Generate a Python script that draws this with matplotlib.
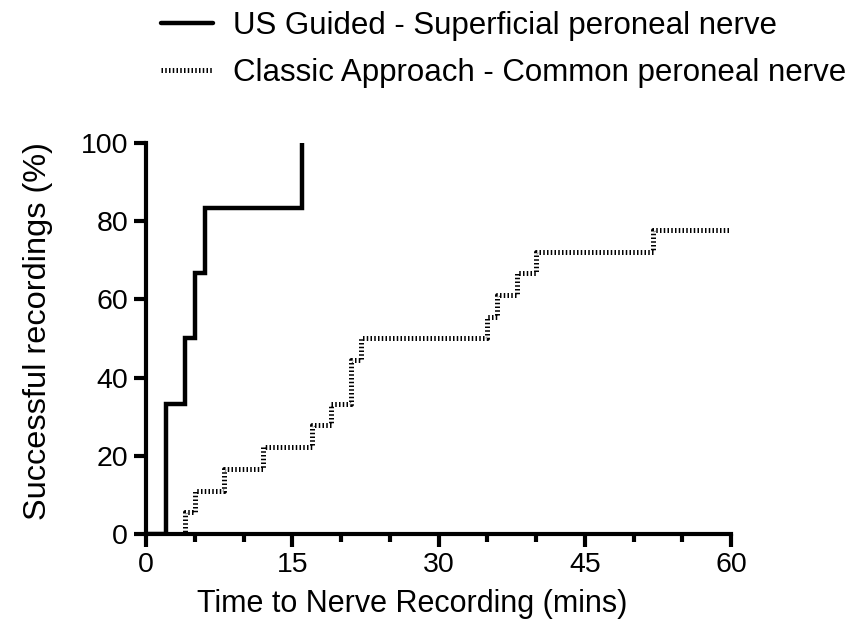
import matplotlib
matplotlib.use('Agg')
import matplotlib.pyplot as plt
from matplotlib.ticker import MultipleLocator

plt.rcParams['font.family'] = ['Liberation Sans', 'DejaVu Sans']

# --- data: cumulative % of successful recordings vs time (mins) ---
us_time = [0, 2, 4, 5, 6, 16]
us_pct = [0, 33.3, 50.0, 66.7, 83.3, 100.0]

classic_time = [0, 4, 5, 8, 12, 17, 19, 21, 22, 35, 36, 38, 40, 52, 60]
classic_pct = [0, 5.6, 11.1, 16.7, 22.2, 27.8, 33.3, 44.4, 50.0, 55.6, 61.1, 66.7, 72.2, 77.8, 77.8]

us_label = 'US Guided - Superficial peroneal nerve'
classic_label = 'Classic Approach - Common peroneal nerve'

x_ticks = [0, 15, 30, 45, 60]
y_ticks = [0, 20, 40, 60, 80, 100]

fig = plt.figure(figsize=(8.6, 6.31), dpi=100)
ax = fig.add_axes([0.170, 0.1537, 0.680, 0.6197])

ax.step(classic_time, classic_pct, where='post', color='black', lw=3.6,
        linestyle=(0, (0.3, 0.45)), dash_capstyle='butt', label=classic_label, zorder=2)
ax.step(us_time, us_pct, where='post', color='black', lw=3.2,
        solid_joinstyle='miter', label=us_label, zorder=3)

ax.set_xlim(0, 60)
ax.set_ylim(0, 100)
ax.set_xticks(x_ticks)
ax.set_yticks(y_ticks)
ax.xaxis.set_minor_locator(MultipleLocator(5))

for side in ['top', 'right']:
    ax.spines[side].set_visible(False)
for side in ['left', 'bottom']:
    ax.spines[side].set_linewidth(3)

ax.tick_params(axis='both', which='major', length=9, width=3, labelsize=20.5, pad=4)
ax.tick_params(axis='x', which='minor', length=6, width=3)

ax.set_xlabel('Time to Nerve Recording (mins)', fontsize=22)
ax.xaxis.set_label_coords(0.455, -0.14)
ax.set_ylabel('Successful recordings (%)', fontsize=23.4)
ax.yaxis.set_label_coords(-0.16, 0.52)

handles, labels = ax.get_legend_handles_labels()
leg = fig.legend(handles[::-1], labels[::-1], loc='upper left', bbox_to_anchor=(0.187, 0.982),
                 frameon=False, fontsize=22.5, handlelength=1.66, handletextpad=0.64,
                 labelspacing=0.54, borderpad=0, borderaxespad=0)
for line in leg.get_lines():
    line.set_solid_capstyle('round')

fig.savefig('out.png', dpi=100)
